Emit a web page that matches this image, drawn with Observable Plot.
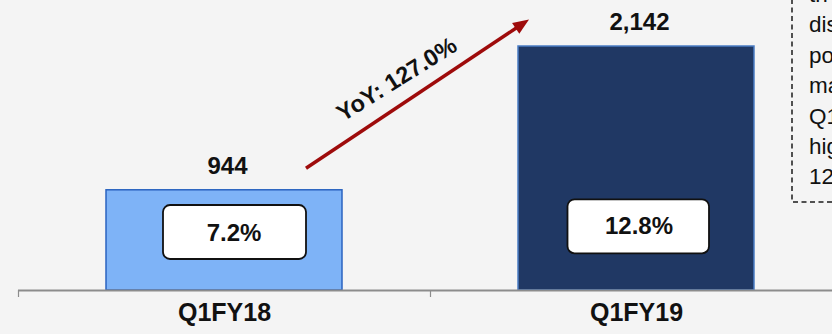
<!DOCTYPE html>
<html>
<head>
<meta charset="utf-8">
<script src="https://cdn.jsdelivr.net/npm/d3@7"></script>
<script src="https://cdn.jsdelivr.net/npm/@observablehq/plot@0.6"></script>
<style>
  html, body { margin: 0; padding: 0; background: #f4f4f4; overflow: hidden; width: 832px; height: 334px; }
  #chart svg { display: block; }
</style>
</head>
<body>
<div id="chart"></div>
<script>
// ---- data ----
const categories = ["Q1FY18", "Q1FY19"];
const values = [944, 2142];
const marginLabels = ["7.2%", "12.8%"];
const yoyLabel = "YoY: 127.0%";
const noteLines = ["th", "dis", "po", "ma", "Q1", "hig", "12"];

// ---- styles ----
const barFills = ["#7eb3f7", "#203864"];
const barStrokes = ["#2a63c0", "#4a7cc4"];
const font = "'Liberation Sans', Arial, Helvetica, sans-serif";
const yBase = 109; // visible baseline of the value scale

const rows = categories.map((c, i) => ({category: c, value: values[i], margin: marginLabels[i]}));

function annotations(index, scales, vals, dimensions, context) {
  const doc = (context && context.document) || document;
  const ns = "http://www.w3.org/2000/svg";
  const el = (tag, attrs, text) => {
    const e = doc.createElementNS(ns, tag);
    for (const k in attrs) e.setAttribute(k, attrs[k]);
    if (text != null) e.textContent = text;
    return e;
  };
  const g = el("g", {});
  const x = scales.x, y = scales.y;
  const bw = x.bandwidth();
  // arrow from above the first bar to above the second bar
  const ax0 = x(categories[0]) + bw - 36, ay0 = y(values[0]) - 21.5;
  const ax1 = x(categories[1]) + 11, ay1 = y(values[1]) - 26.5;
  const dx = ax1 - ax0, dy = ay1 - ay0, len = Math.hypot(dx, dy);
  const ux = dx / len, uy = dy / len;
  const headL = 16, headW = 6.5;
  const bx = ax1 - ux * headL, by = ay1 - uy * headL;
  const red = "#9e0b0b";
  g.appendChild(el("line", {x1: ax0, y1: ay0, x2: bx + ux * 2, y2: by + uy * 2, stroke: red, "stroke-width": 3.5}));
  g.appendChild(el("polygon", {
    points: `${ax1},${ay1} ${bx - uy * headW},${by + ux * headW} ${bx + uy * headW},${by - ux * headW}`,
    fill: red
  }));
  const mx = (ax0 + ax1) / 2 - 21, my = (ay0 + ay1) / 2 - 15;
  g.appendChild(el("text", {
    transform: `translate(${mx},${my}) rotate(-32)`,
    "text-anchor": "middle", dy: "0.35em",
    "font-size": 23.5, "font-weight": "bold", fill: "#111", "font-family": font
  }, yoyLabel));

  // dashed note box on the right (cut by the chart edge)
  const nx = dimensions.width - 40;
  g.appendChild(el("rect", {x: nx, y: -40, width: 120, height: 242, fill: "none",
    stroke: "#1a1a1a", "stroke-width": 1.5, "stroke-dasharray": "5,3.5"}));
  noteLines.forEach((t, i) => {
    g.appendChild(el("text", {x: nx + 17, y: 2 + i * 30.4, "text-anchor": "start", "font-size": 22.5, fill: "#111", "font-family": font}, t));
  });
  return g;
}

const plot = Plot.plot({
  width: 832,
  height: 334,
  marginTop: 46,
  marginBottom: 44,
  marginLeft: 18,
  marginRight: 0,
  style: {background: "#f4f4f4", fontFamily: font, overflow: "hidden"},
  x: {type: "band", domain: categories, range: [18, 842], paddingInner: 0.427, paddingOuter: 0.2135, axis: null},
  y: {domain: [yBase, d3.max(values)], clamp: true, axis: null},
  marks: [
    Plot.barY(rows, {x: "category", y: "value", fill: (d, i) => barFills[i], stroke: (d, i) => barStrokes[i], strokeWidth: 1.5}),
    Plot.ruleY([yBase], {stroke: "#8c8c8c", strokeWidth: 2}),
    Plot.ruleX(categories, {x: d => d, dx: -206, y1: () => yBase, y2: () => yBase, insetBottom: -7, stroke: "#8c8c8c", strokeWidth: 1.2}),
    // margin boxes inside bars
    Plot.barY(rows.slice(0, 1), {x: "category", y1: () => yBase, y2: () => yBase, insetTop: -85, insetBottom: 31, insetLeft: 57, insetRight: 36, rx: 7, fill: "white", stroke: "#111", strokeWidth: 1.8}),
    Plot.barY(rows.slice(1, 2), {x: "category", y1: () => yBase, y2: () => yBase, insetTop: -90.7, insetBottom: 36.7, insetLeft: 49.5, insetRight: 45, rx: 7, fill: "white", stroke: "#111", strokeWidth: 1.8}),
    Plot.text(rows.slice(0, 1), {x: "category", y: () => yBase, text: "margin", dx: 9.5, dy: -57.5, fontSize: 24, fontWeight: "bold", fill: "#111"}),
    Plot.text(rows.slice(1, 2), {x: "category", y: () => yBase, text: "margin", dx: 2.5, dy: -63.7, fontSize: 24, fontWeight: "bold", fill: "#111"}),
    // value labels
    Plot.text(rows, {x: "category", y: "value", text: d => d3.format(",")(d.value), dx: 3, dy: -24, fontSize: 24, fontWeight: "bold", fill: "#111"}),
    // category labels
    Plot.text(categories, {x: d => d, frameAnchor: "bottom", dy: 30, fontSize: 25, fontWeight: "bold", fill: "#111"}),
    annotations
  ]
});
document.getElementById("chart").appendChild(plot);
</script>
</body>
</html>
